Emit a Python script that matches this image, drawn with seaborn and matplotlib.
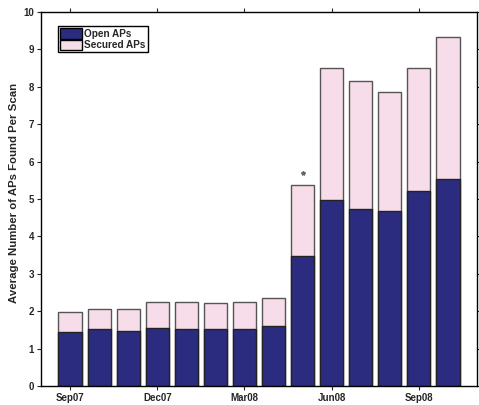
#!/usr/bin/env python3
"""Stacked bars: average open vs secured APs found per scan, Sep07-Oct08."""

import pandas as pd
import matplotlib
matplotlib.use("Agg")
import matplotlib.pyplot as plt
import seaborn as sns
from matplotlib.patches import Patch

# Data
months = ['Sep07', 'Oct07', 'Nov07', 'Dec07', 'Jan08', 'Feb08', 'Mar08',
          'Apr08', 'May08', 'Jun08', 'Jul08', 'Aug08', 'Sep08', 'Oct08']
open_aps = [1.45, 1.52, 1.47, 1.54, 1.53, 1.52, 1.53,
            1.60, 3.47, 4.98, 4.72, 4.69, 5.22, 5.53]
total_aps = [1.99, 2.07, 2.05, 2.24, 2.24, 2.21, 2.24,
             2.36, 5.37, 8.51, 8.16, 7.87, 8.49, 9.32]
tick_labels = ['Sep07', 'Dec07', 'Mar08', 'Jun08', 'Sep08']
star_month = 'May08'
star_value = 5.70

OPEN_COLOR = '#2b2c7f'
SECURED_COLOR = '#f7dde9'
EDGE_COLOR = '#555555'

df = pd.DataFrame({'Month': months, 'Open': open_aps, 'Total': total_aps})

sns.set_style("ticks")
plt.rcParams['font.family'] = ['Liberation Sans', 'DejaVu Sans']
plt.rcParams['font.weight'] = 'bold'

fig = plt.figure(figsize=(4.79, 4.05), dpi=100)
ax = fig.add_axes([0.0856, 0.047, 0.9102, 0.9234])

# total first (secured on top), open drawn over it
sns.barplot(data=df, x='Month', y='Total', order=months, color=SECURED_COLOR,
            width=0.8, edgecolor=EDGE_COLOR, linewidth=1.0, saturation=1, ax=ax)
sns.barplot(data=df, x='Month', y='Open', order=months, color=OPEN_COLOR,
            width=0.8, edgecolor='#222222', linewidth=1.0, saturation=1, ax=ax)

ax.plot(months.index(star_month), star_value, marker='*', color='#666666',
        markersize=3, linestyle='none')

ax.set_xlim(-1, 14)
ax.set_ylim(0, 10)
ax.set_yticks(range(0, 11))
ax.set_xticks([months.index(m) for m in tick_labels])
ax.set_xticklabels(tick_labels, fontsize=7, fontweight='bold')
ax.set_yticklabels([str(v) for v in range(0, 11)], fontsize=7, fontweight='bold')
ax.set_xlabel('')
ax.set_ylabel('Average Number of APs Found Per Scan', fontsize=8.2,
              fontweight='bold')
ax.yaxis.set_label_coords(-0.05, 0.516)

for side in ['top', 'right', 'left', 'bottom']:
    ax.spines[side].set_visible(True)
    ax.spines[side].set_color('black')
    ax.spines[side].set_linewidth(1.0)
ax.tick_params(direction='out', length=3, width=0.8, top=True, right=True,
               labeltop=False, labelright=False, pad=2)

handles = [Patch(facecolor=OPEN_COLOR, edgecolor='black', label='Open APs'),
           Patch(facecolor=SECURED_COLOR, edgecolor='black', label='Secured APs')]
leg = ax.legend(handles=handles, loc='upper left', bbox_to_anchor=(0.04, 0.963),
                fontsize=7.2, frameon=True, fancybox=False, framealpha=1,
                edgecolor='black', borderpad=0.2, handlelength=2.2,
                handleheight=1.3, handletextpad=0.2, labelspacing=0.08,
                borderaxespad=0)
leg.get_frame().set_linewidth(1.0)
for t in leg.get_texts():
    t.set_fontweight('bold')

fig.savefig('out.png', dpi=100)
